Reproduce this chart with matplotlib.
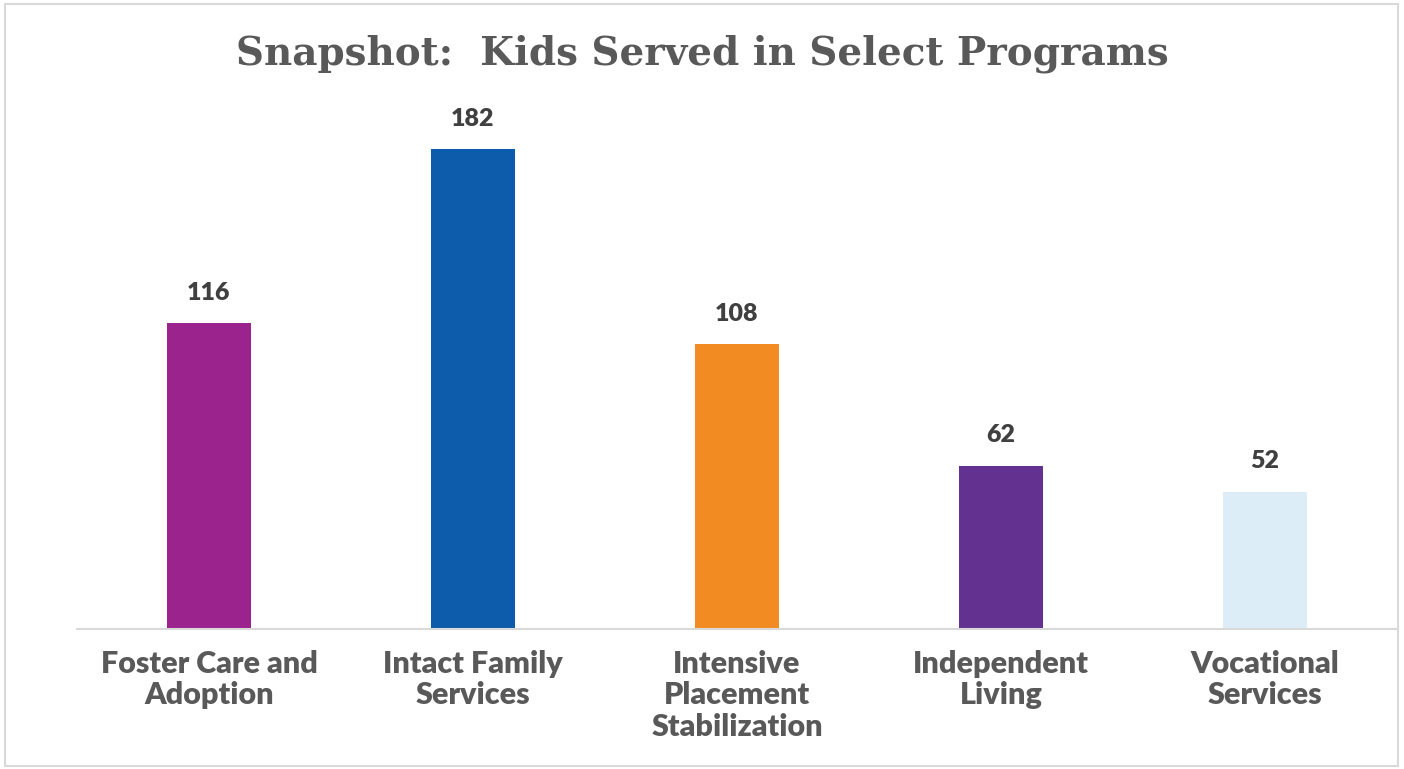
import matplotlib.pyplot as plt
from matplotlib.patches import Rectangle

# data
programs = ["Foster Care and\nAdoption", "Intact Family\nServices",
            "Intensive\nPlacement\nStabilization", "Independent\nLiving",
            "Vocational\nServices"]
kids_served = [116, 182, 108, 62, 52]
bar_colors = ["#9B238E", "#0D5BAB", "#F28C22", "#63318F", "#DCEDF8"]

fig = plt.figure(figsize=(14.04, 7.69), dpi=100)
ax = fig.add_axes([77 / 1404, 140 / 769, 1320 / 1404, 527.4 / 769])

x = range(len(programs))
ax.bar(x, kids_served, width=0.32, color=bar_colors, zorder=2)

for xi, v in zip(x, kids_served):
    ax.annotate(f"{v}", (xi, v), xytext=(0, 14), textcoords="offset points",
                ha="center", va="bottom", fontsize=18, fontweight="heavy",
                family="Lato", color="#404040")

ax.set_xlim(-0.5, len(programs) - 0.5)
ax.set_ylim(0, 200)
ax.set_xticks(list(x))
ax.set_xticklabels(programs, fontsize=22, fontweight="heavy", family="Lato",
                   color="#595959", linespacing=1.15)
ax.tick_params(axis="x", length=0, pad=15)
ax.set_yticks([])
for s in ["top", "left", "right"]:
    ax.spines[s].set_visible(False)
ax.spines["bottom"].set_color("#D9D9D9")
ax.spines["bottom"].set_linewidth(1.5)

fig.text(0.5, 1 - 54 / 769, "Snapshot:  Kids Served in Select Programs",
         ha="center", va="center", fontsize=28, fontweight="bold",
         family="DejaVu Serif", color="#595959")

# outer chart border
fig.patches.append(Rectangle((5 / 1404, 3 / 769), 1393 / 1404, 762 / 769,
                             transform=fig.transFigure, fill=False,
                             edgecolor="#D9D9D9", linewidth=1.5))

fig.savefig("out.png", dpi=100)
